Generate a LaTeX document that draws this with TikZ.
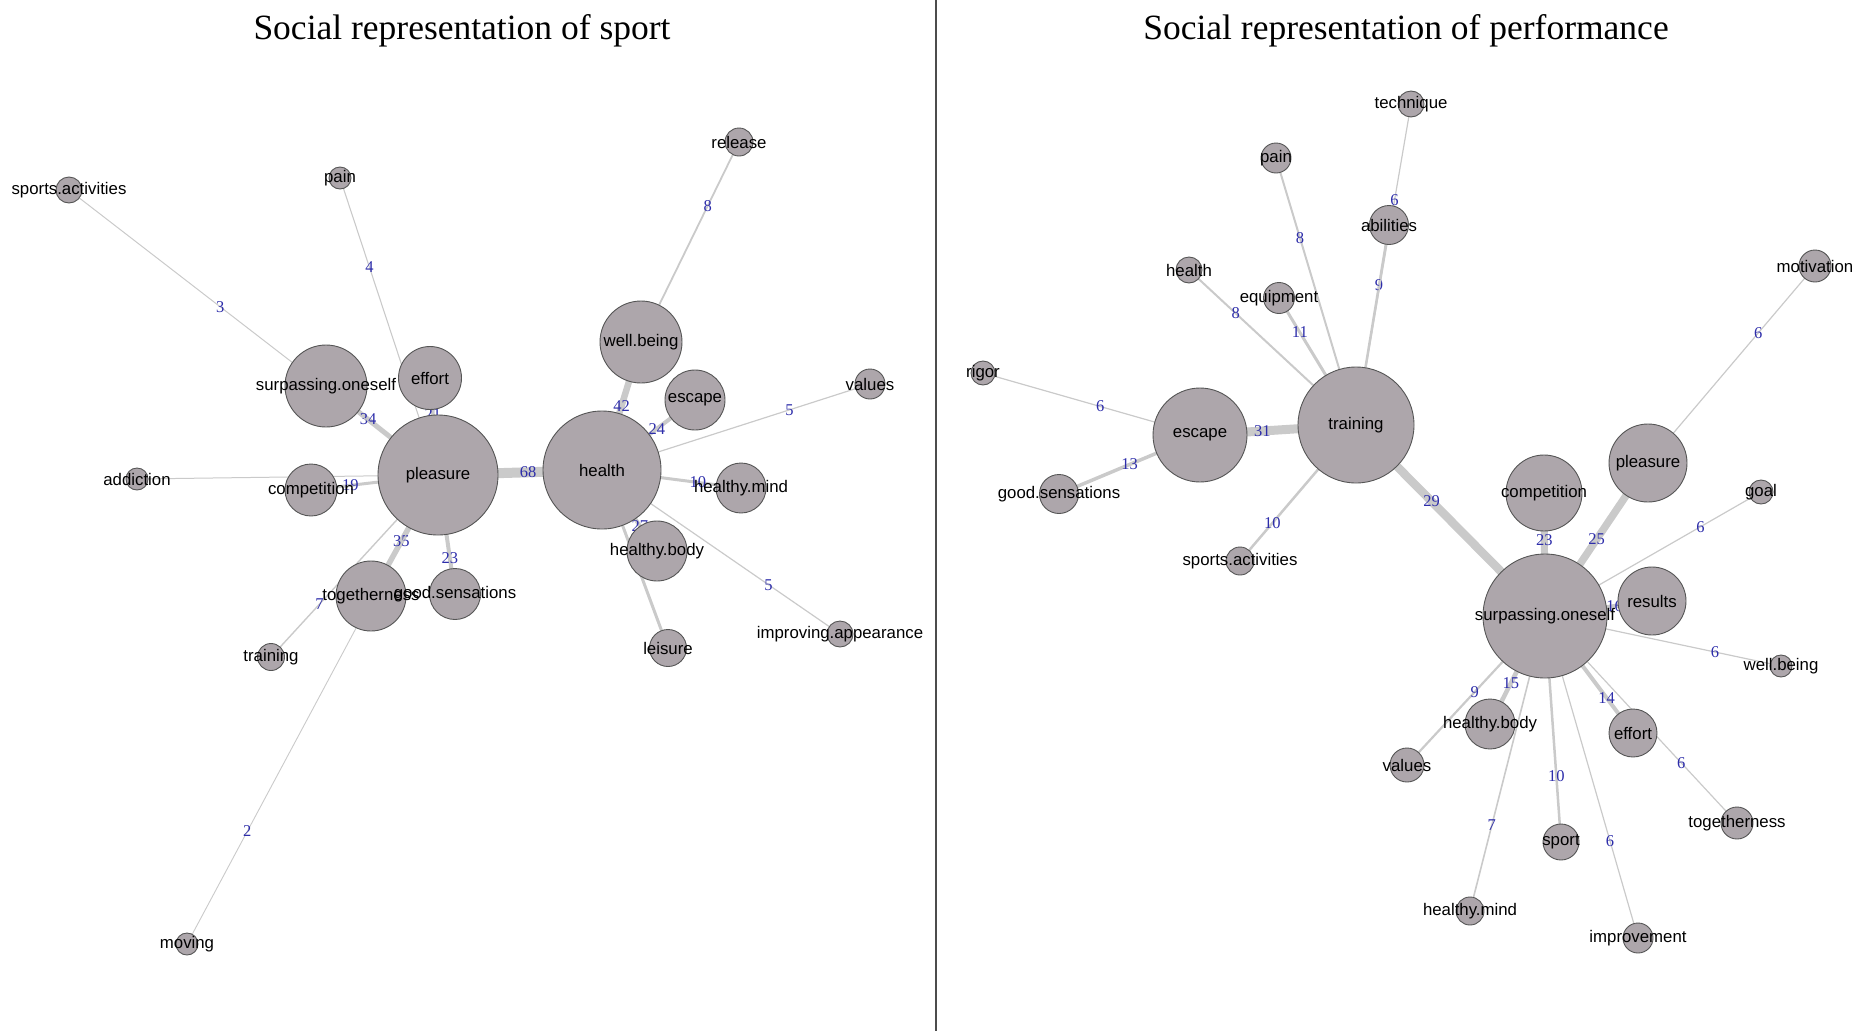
\documentclass[tikz,border=0pt]{standalone}
\usepackage{fontspec}
\setmainfont{Liberation Serif}
\newfontfamily\arialfont{Liberation Sans}
\usetikzlibrary{backgrounds}
\definecolor{nodefill}{RGB}{173,166,171}
\definecolor{nodeline}{RGB}{85,85,85}
\definecolor{edgegray}{RGB}{202,202,202}
\definecolor{freqblue}{RGB}{45,45,170}

\begin{document}
\begin{tikzpicture}[x=1pt,y=-1pt,
	vertice/.style 2 args = {circle,draw=nodeline,fill=nodefill,line width=0.9pt,inner sep=0pt,minimum size=#1pt,
		label={[font=\arialfont\fontsize{16.8}{18}\selectfont,inner sep=0pt]center:#2}},
	tie/.style = {draw=edgegray,line width=#1pt},
	freq/.style = {font=\fontsize{16.5}{18}\selectfont,text=freqblue,inner sep=0pt},
	heading/.style = {font=\fontsize{35.5}{40}\selectfont}]
	\useasboundingbox (0,0) rectangle (1857,1031);

	% titles and separator
	\node[heading] (sportTitle) at (462,31) {Social representation of sport};
	\node[heading] (perfTitle) at (1406,31) {Social representation of performance};
	\coordinate (sepTop) at (936,0);
	\coordinate (sepBot) at (936,1031);
	\draw[black!70,line width=1.2pt] (sepTop) -- (sepBot);

	% sport
	\node[vertice={26}{sports.activities}] (s-sports) at (69,190) {};
	\node[vertice={22}{pain}] (s-pain) at (340,178) {};
	\node[vertice={28}{release}] (s-release) at (739,142) {};
	\node[vertice={63}{effort}] (s-effort) at (430,378) {};
	\node[vertice={82}{surpassing.oneself}] (s-surp) at (326,386) {};
	\node[vertice={82}{well.being}] (s-wellb) at (641,342) {};
	\node[vertice={60}{escape}] (s-escape) at (695,400) {};
	\node[vertice={30}{values}] (s-values) at (870,384) {};
	\node[vertice={22}{addiction}] (s-addiction) at (137,479) {};
	\node[vertice={52}{competition}] (s-comp) at (311,490) {};
	\node[vertice={120}{pleasure}] (s-pleasure) at (438,475) {};
	\node[vertice={118}{health}] (s-health) at (602,470) {};
	\node[vertice={50}{healthy.mind}] (s-hmind) at (741,488) {};
	\node[vertice={60}{healthy.body}] (s-hbody) at (657,551) {};
	\node[vertice={70}{togetherness}] (s-together) at (371,596) {};
	\node[vertice={51}{good.sensations}] (s-goods) at (455,594) {};
	\node[vertice={27}{training}] (s-training) at (271,657) {};
	\node[vertice={37}{leisure}] (s-leisure) at (668,648) {};
	\node[vertice={26}{improving.appearance}] (s-improving) at (840,634) {};
	\node[vertice={22}{moving}] (s-moving) at (187,944) {};

	% performance
	\node[vertice={26}{technique}] (p-technique) at (1411,104) {};
	\node[vertice={30}{pain}] (p-pain) at (1276,158) {};
	\node[vertice={39}{abilities}] (p-abilities) at (1389,225) {};
	\node[vertice={32}{motivation}] (p-motivation) at (1815,266) {};
	\node[vertice={26}{health}] (p-health) at (1189,270) {};
	\node[vertice={31}{equipment}] (p-equipment) at (1279,298) {};
	\node[vertice={24}{rigor}] (p-rigor) at (983,373) {};
	\node[vertice={94}{escape}] (p-escape) at (1200,435) {};
	\node[vertice={116}{training}] (p-training) at (1356,425) {};
	\node[vertice={39}{good.sensations}] (p-goods) at (1059,494) {};
	\node[vertice={28}{sports.activities}] (p-sports) at (1240,561) {};
	\node[vertice={78}{pleasure}] (p-pleasure) at (1648,463) {};
	\node[vertice={76}{competition}] (p-comp) at (1544,493) {};
	\node[vertice={24}{goal}] (p-goal) at (1761,492) {};
	\node[vertice={68}{results}] (p-results) at (1652,601) {};
	\node[vertice={124}{surpassing.oneself}] (p-surp) at (1545,616) {};
	\node[vertice={22}{well.being}] (p-wellb) at (1781,666) {};
	\node[vertice={50}{healthy.body}] (p-hbody) at (1490,724) {};
	\node[vertice={34}{values}] (p-values) at (1407,765) {};
	\node[vertice={48}{effort}] (p-effort) at (1633,733) {};
	\node[vertice={36}{sport}] (p-sport) at (1561,842) {};
	\node[vertice={32}{togetherness}] (p-together) at (1737,823) {};
	\node[vertice={28}{healthy.mind}] (p-hmind) at (1470,911) {};
	\node[vertice={30}{improvement}] (p-improve) at (1638,938) {};

	\begin{pgfonlayer}{background}
	% sport links
	\draw[tie=10] (s-pleasure.center) -- node[freq,pos=.55] {68} (s-health.center);
	\draw[tie=5] (s-pleasure.center) -- node[freq,pos=.625] {34} (s-surp.center);
	\draw[tie=3.5] (s-pleasure.center) -- node[freq,pos=.63] {21} (s-effort.center);
	\draw[tie=3] (s-pleasure.center) -- node[freq,pos=.69] {19} (s-comp.center);
	\draw[tie=5.5] (s-pleasure.center) -- node[freq,pos=.545] {35} (s-together.center);
	\draw[tie=4] (s-pleasure.center) -- node[freq,pos=.7] {23} (s-goods.center);
	\draw[tie=1.1] (s-pleasure.center) -- node[freq,pos=.7] {4} (s-pain.center);
	\draw[tie=1.4] (s-pleasure.center) -- node[freq,pos=.71] {7} (s-training.center);
	\draw[tie=0.9] (s-pleasure.center) -- node[freq,pos=.76] {2} (s-moving.center);
	\draw[tie=1] (s-pleasure.center) -- (s-addiction.center);
	\draw[tie=1] (s-pleasure.center) -- node[freq,pos=.59] {3} (s-sports.center);
	\draw[tie=6.5] (s-health.center) -- node[freq,pos=.5] {42} (s-wellb.center);
	\draw[tie=4] (s-health.center) -- node[freq,pos=.59] {24} (s-escape.center);
	\draw[tie=3] (s-health.center) -- node[freq,pos=.69] {10} (s-hmind.center);
	\draw[tie=4] (s-health.center) -- node[freq,pos=.69] {27} (s-hbody.center);
	\draw[tie=1.2] (s-health.center) -- node[freq,pos=.7] {5} (s-values.center);
	\draw[tie=1.2] (s-health.center) -- node[freq,pos=.7] {5} (s-improving.center);
	\draw[tie=3] (s-health.center) -- (s-leisure.center);
	\draw[tie=1.8] (s-wellb.center) -- node[freq,pos=.68] {8} (s-release.center);

	% performance links
	\draw[tie=9] (p-training.center) -- node[freq,pos=.6] {31} (p-escape.center);
	\draw[tie=1.2] (p-escape.center) -- node[freq,pos=.46] {6} (p-rigor.center);
	\draw[tie=3.5] (p-escape.center) -- node[freq,pos=.5] {13} (p-goods.center);
	\draw[tie=2.5] (p-training.center) -- node[freq,pos=.72] {10} (p-sports.center);
	\draw[tie=2] (p-training.center) -- node[freq,pos=.72] {8} (p-health.center);
	\draw[tie=3] (p-training.center) -- node[freq,pos=.73] {11} (p-equipment.center);
	\draw[tie=2] (p-training.center) -- node[freq,pos=.7] {8} (p-pain.center);
	\draw[tie=2.5] (p-training.center) -- node[freq,pos=.7] {9} (p-abilities.center);
	\draw[tie=1.2] (p-training.center) -- node[freq,pos=.7] {6} (p-technique.center);
	\draw[tie=8.5] (p-training.center) -- node[freq,pos=.4] {29} (p-surp.center);
	\draw[tie=7] (p-surp.center) -- node[freq,pos=.62] {23} (p-comp.center);
	\draw[tie=7.5] (p-surp.center) -- node[freq,pos=.5] {25} (p-pleasure.center);
	\draw[tie=1.2] (p-pleasure.center) -- node[freq,pos=.66] {6} (p-motivation.center);
	\draw[tie=1.2] (p-surp.center) -- node[freq,pos=.72] {6} (p-goal.center);
	\draw[tie=4.5] (p-surp.center) -- node[freq,pos=.65] {16} (p-results.center);
	\draw[tie=1.2] (p-surp.center) -- node[freq,pos=.72] {6} (p-wellb.center);
	\draw[tie=4] (p-surp.center) -- node[freq,pos=.7] {14} (p-effort.center);
	\draw[tie=1.2] (p-surp.center) -- node[freq,pos=.71] {6} (p-together.center);
	\draw[tie=1.2] (p-surp.center) -- node[freq,pos=.7] {6} (p-improve.center);
	\draw[tie=2.5] (p-surp.center) -- node[freq,pos=.71] {10} (p-sport.center);
	\draw[tie=1.6] (p-surp.center) -- node[freq,pos=.71] {7} (p-hmind.center);
	\draw[tie=4.5] (p-surp.center) -- node[freq,pos=.62] {15} (p-hbody.center);
	\draw[tie=2.2] (p-surp.center) -- node[freq,pos=.51] {9} (p-values.center);
	\end{pgfonlayer}
\end{tikzpicture}
\end{document}
